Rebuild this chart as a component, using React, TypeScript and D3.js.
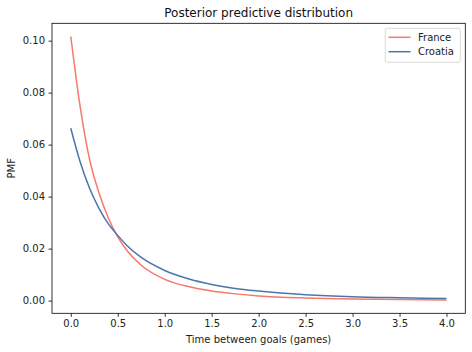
import React, { useEffect, useRef } from 'react';
import * as d3 from 'd3';

// values
const times = [0, 0.1, 0.2, 0.3, 0.4, 0.5, 0.6, 0.75, 1.0, 1.25, 1.5, 1.75, 2.0, 2.5, 3.0, 3.5, 4.0];
const france = [0.1016, 0.0745, 0.0543, 0.0415, 0.0318, 0.0245, 0.0192, 0.0136, 0.0082, 0.0054, 0.0037, 0.0026, 0.0018, 0.0010, 0.0006, 0.0004, 0.0002];
const croatia = [0.0663, 0.0533, 0.0432, 0.0355, 0.0295, 0.0251, 0.0211, 0.0166, 0.0116, 0.0084, 0.0062, 0.0047, 0.0037, 0.0023, 0.0015, 0.0011, 0.0008];
const seriesNames = ['France', 'Croatia'];
const seriesColors = ['#f7776b', '#4d75ad'];
const xTicks = [0, 0.5, 1, 1.5, 2, 2.5, 3, 3.5, 4];
const yTicks = [0, 0.02, 0.04, 0.06, 0.08, 0.1];

const W = 472;
const H = 352;
const left = 52, right = 465.3, top = 23.3, bottom = 313.3;
const FONT = 'DejaVu Sans, sans-serif';

export default function App() {
  const ref = useRef<SVGSVGElement>(null);

  useEffect(() => {
    const svg = d3.select(ref.current);
    svg.selectAll('*').remove();

    const all = france.concat(croatia);
    const lo = d3.min(all) as number;
    const hi = d3.max(all) as number;
    const pad = (hi - lo) * 0.05;

    const x = d3.scaleLinear().domain([-0.2, 4.2]).range([left, right]);
    const y = d3.scaleLinear().domain([lo - pad, hi + pad]).range([bottom, top]);

    svg.append('rect').attr('width', W).attr('height', H).attr('fill', 'white');

    // lines
    const series = [france, croatia];
    series.forEach((vals, i) => {
      const line = d3.line<number>()
        .x((_, j) => x(times[j]))
        .y(d => y(d))
        .curve(d3.curveMonotoneX);
      svg.append('path')
        .attr('d', line(vals))
        .attr('fill', 'none')
        .attr('stroke', seriesColors[i])
        .attr('stroke-width', 1.5);
    });

    // frame
    svg.append('rect')
      .attr('x', left).attr('y', top)
      .attr('width', right - left).attr('height', bottom - top)
      .attr('fill', 'none').attr('stroke', 'black').attr('stroke-width', 0.8);

    // x axis
    const xAxis = d3.axisBottom(x).tickValues(xTicks).tickSize(3.5).tickPadding(3.5)
      .tickFormat(d => d3.format('.1f')(d as number));
    const gx = svg.append('g').attr('transform', `translate(0,${bottom})`).call(xAxis);
    gx.select('.domain').remove();
    gx.selectAll('line').attr('stroke', 'black').attr('stroke-width', 0.8);
    gx.selectAll('text').attr('font-family', FONT).attr('font-size', 10).attr('fill', '#222');

    // y axis
    const yAxis = d3.axisLeft(y).tickValues(yTicks).tickSize(3.5).tickPadding(3.5)
      .tickFormat(d => d3.format('.2f')(d as number));
    const gy = svg.append('g').attr('transform', `translate(${left},0)`).call(yAxis);
    gy.select('.domain').remove();
    gy.selectAll('line').attr('stroke', 'black').attr('stroke-width', 0.8);
    gy.selectAll('text').attr('font-family', FONT).attr('font-size', 10).attr('fill', '#222');

    // titles
    svg.append('text')
      .attr('x', (left + right) / 2).attr('y', 17)
      .attr('text-anchor', 'middle')
      .attr('font-family', FONT).attr('font-size', 12).attr('fill', '#111')
      .text('Posterior predictive distribution');
    svg.append('text')
      .attr('x', (left + right) / 2).attr('y', 343)
      .attr('text-anchor', 'middle')
      .attr('font-family', FONT).attr('font-size', 10).attr('fill', '#222')
      .text('Time between goals (games)');
    svg.append('text')
      .attr('transform', `translate(15,${(top + bottom) / 2}) rotate(-90)`)
      .attr('text-anchor', 'middle')
      .attr('font-family', FONT).attr('font-size', 10).attr('fill', '#222')
      .text('PMF');

    // legend
    const lg = svg.append('g');
    lg.append('rect')
      .attr('x', 385.3).attr('y', 28.3).attr('width', 75).attr('height', 34)
      .attr('rx', 2).attr('fill', 'white').attr('fill-opacity', 0.8)
      .attr('stroke', '#d0d0d0').attr('stroke-width', 0.8);
    seriesNames.forEach((name, i) => {
      const yy = 37.3 + i * 14.4;
      lg.append('line')
        .attr('x1', 388.5).attr('x2', 410.5).attr('y1', yy).attr('y2', yy)
        .attr('stroke', seriesColors[i]).attr('stroke-width', 1.5);
      lg.append('text')
        .attr('x', 418).attr('y', yy + 3.6)
        .attr('font-family', FONT).attr('font-size', 10).attr('fill', '#222')
        .text(name);
    });
  }, []);

  return (
    <svg ref={ref} width={W} height={H} viewBox={`0 0 ${W} ${H}`}
      style={{ position: 'absolute', left: 0, top: 0 }} />
  );
}
